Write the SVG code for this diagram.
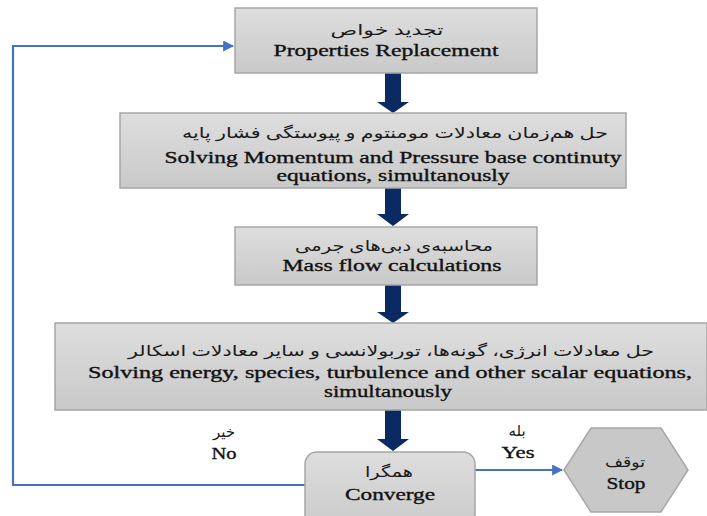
<svg xmlns="http://www.w3.org/2000/svg" width="707" height="516" viewBox="0 0 707 516">
<defs>
<linearGradient id="g" x1="0" y1="0" x2="0" y2="1">
<stop offset="0" stop-color="#dedede"/>
<stop offset="1" stop-color="#c9c9c9"/>
</linearGradient>
<marker id="ah" viewBox="0 0 10 10" refX="9" refY="5" markerWidth="5" markerHeight="5" orient="auto" markerUnits="strokeWidth">
<path d="M0,0 L10,5 L0,10 z" fill="#4472c4"/>
</marker>
<style>
.box{fill:url(#g);stroke:#a6a6a6;stroke-width:1.5}
.en{font-family:"Liberation Serif","Times New Roman",serif;font-size:17px;fill:#111111;text-anchor:middle;stroke:#111111;stroke-width:0.35}
.fa{font-family:"Liberation Serif","DejaVu Sans",serif;font-size:15px;fill:#1a1a1a;text-anchor:middle}
.blk{fill:#0b2a63}
.ln{fill:none;stroke:#4472c4;stroke-width:2.2}
</style>
</defs>
<rect width="707" height="516" fill="#ffffff"/>
<g id="connectors">
<polygon class="blk" points="385,73 401,73 401,102 409,102 393,113 377,102 385,102"/>
<polygon class="blk" points="385,188 401,188 401,214 409,214 393,226 377,214 385,214"/>
<polygon class="blk" points="385,285 401,285 401,312 409,312 393,323 377,312 385,312"/>
<polygon class="blk" points="385,410 401,410 401,439 409,439 393,451 377,439 385,439"/>
<polyline class="ln" points="305,485 13,485 13,46 233,46" marker-end="url(#ah)"/>
<line class="ln" x1="475" y1="470" x2="562" y2="470" marker-end="url(#ah)"/>
</g>
<g id="n1">
<rect class="box" x="235" y="8" width="302" height="65"/>
<text class="fa" x="387" y="35" textLength="113" lengthAdjust="spacingAndGlyphs">تجدید خواص</text>
<text class="en" x="386" y="56" textLength="225" lengthAdjust="spacingAndGlyphs">Properties Replacement</text>
</g>
<g id="n2">
<rect class="box" x="120" y="113" width="506" height="75"/>
<text class="fa" x="395" y="138" textLength="426" lengthAdjust="spacingAndGlyphs">حل هم‌زمان معادلات مومنتوم و پیوستگی فشار پایه</text>
<text class="en" x="393" y="163" textLength="457" lengthAdjust="spacingAndGlyphs">Solving Momentum and Pressure base continuty</text>
<text class="en" x="393" y="181" textLength="233" lengthAdjust="spacingAndGlyphs">equations, simultanously</text>
</g>
<g id="n3">
<rect class="box" x="235" y="227" width="302" height="58"/>
<text class="fa" x="394" y="251" textLength="198" lengthAdjust="spacingAndGlyphs">محاسبه‌ی دبی‌های  جرمی</text>
<text class="en" x="392" y="271" textLength="219" lengthAdjust="spacingAndGlyphs">Mass flow calculations</text>
</g>
<g id="n4">
<rect class="box" x="55" y="323" width="652" height="87"/>
<text class="fa" x="391" y="356" textLength="526" lengthAdjust="spacingAndGlyphs">حل معادلات انرژی، گونه‌ها، توربولانسی و سایر معادلات اسکالر</text>
<text class="en" x="390" y="378" textLength="604" lengthAdjust="spacingAndGlyphs">Solving energy, species, turbulence and other scalar equations,</text>
<text class="en" x="388" y="397" textLength="128" lengthAdjust="spacingAndGlyphs">simultanously</text>
</g>
<g id="n5">
<rect class="box" x="305" y="452" width="170" height="80" rx="12" ry="12"/>
<text class="fa" x="389" y="477" textLength="48" lengthAdjust="spacingAndGlyphs">همگرا</text>
<text class="en" x="390" y="500" textLength="90" lengthAdjust="spacingAndGlyphs">Converge</text>
</g>
<g id="n6">
<polygon points="564,470 591,428 661,428 688,470 661,512 591,512" fill="#c8c8c8" stroke="#a8a8a8" stroke-width="1.5"/>
<text class="fa" x="625" y="467" textLength="40" lengthAdjust="spacingAndGlyphs">توقف</text>
<text class="en" x="626" y="489" textLength="39" lengthAdjust="spacingAndGlyphs">Stop</text>
</g>
<g id="labels">
<text class="fa" x="224" y="437">خیر</text>
<text class="en" x="224" y="459" textLength="25" lengthAdjust="spacingAndGlyphs">No</text>
<text class="fa" x="517" y="436">بله</text>
<text class="en" x="518" y="458" textLength="33" lengthAdjust="spacingAndGlyphs">Yes</text>
</g>
</svg>
